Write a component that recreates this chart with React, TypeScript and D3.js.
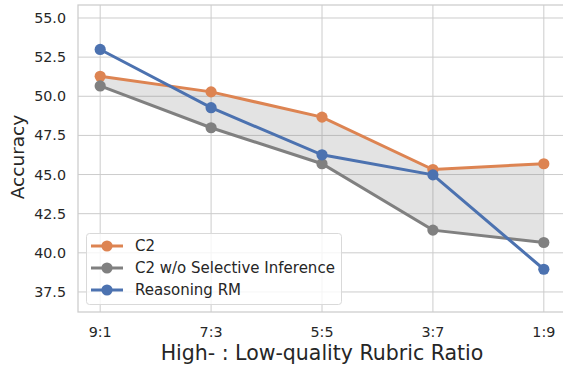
import React from 'react';
import * as d3 from 'd3';

const categories = ['9:1', '7:3', '5:5', '3:7', '1:9'];
const c2Values = [51.28, 50.28, 48.67, 45.32, 45.69];
const c2NoSelective = [50.66, 47.99, 45.69, 41.45, 40.66];
const reasoningRM = [52.99, 49.27, 46.26, 44.98, 38.95];
const yTicks = [37.5, 40.0, 42.5, 45.0, 47.5, 50.0, 52.5, 55.0];

const series = [
  { name: 'C2', values: c2Values, color: '#dd8452' },
  { name: 'C2 w/o Selective Inference', values: c2NoSelective, color: '#808080' },
  { name: 'Reasoning RM', values: reasoningRM, color: '#4c72b0' },
];

const W = 563;
const H = 369;
const plot = { left: 78, top: 5, right: 566, bottom: 312 };
const textColor = '#262626';
const font = 'DejaVu Sans, sans-serif';

export default function App() {
  const x = d3.scaleLinear().domain([-0.2, 4.2]).range([plot.left, plot.right]);
  const y = d3.scaleLinear().domain([36.22, 55.83]).range([plot.bottom, plot.top]);

  const band = d3.area<number>()
    .x((_, i) => x(i))
    .y0((_, i) => y(c2NoSelective[i]))
    .y1((d) => y(d));

  const line = d3.line<number>()
    .x((_, i) => x(i))
    .y((d) => y(d));

  return (
    <svg width={W} height={H} style={{ position: 'absolute', left: 0, top: 0 }} fontFamily={font}>
      <rect x={0} y={0} width={W} height={H} fill="#fff" />
      {/* grid */}
      {yTicks.map((t) => (
        <line key={'gy' + t} x1={plot.left} x2={plot.right} y1={y(t)} y2={y(t)} stroke="#cccccc" strokeWidth={1} />
      ))}
      {categories.map((c, i) => (
        <line key={'gx' + c} x1={x(i)} x2={x(i)} y1={plot.top} y2={plot.bottom} stroke="#cccccc" strokeWidth={1} />
      ))}
      {/* spines */}
      <rect x={plot.left} y={plot.top} width={plot.right - plot.left} height={plot.bottom - plot.top}
        fill="none" stroke="#cccccc" strokeWidth={1.25} />

      {/* shaded gap between C2 and ablation */}
      <path d={band(c2Values) || ''} fill="#808080" fillOpacity={0.22} stroke="none" />

      {series.map((s) => (
        <g key={s.name}>
          <path d={line(s.values) || ''} fill="none" stroke={s.color} strokeWidth={3} />
          {s.values.map((v, i) => (
            <circle key={i} cx={x(i)} cy={y(v)} r={5.6} fill={s.color} />
          ))}
        </g>
      ))}

      {/* y tick labels */}
      {yTicks.map((t) => (
        <text key={'ty' + t} x={66} y={y(t)} dy="0.35em" textAnchor="end" fontSize={14.3} fill={textColor}>
          {t.toFixed(1)}
        </text>
      ))}
      {/* x tick labels */}
      {categories.map((c, i) => (
        <text key={'tx' + c} x={x(i)} y={337} textAnchor="middle" fontSize={14.3} fill={textColor}>
          {c}
        </text>
      ))}

      <text x={0} y={0} transform={`translate(24,157) rotate(-90)`}
        textAnchor="middle" fontSize={18.5} fill={textColor}>Accuracy</text>
      <text x={322} y={360} textAnchor="middle" fontSize={20.5} fill={textColor}>
        High- : Low-quality Rubric Ratio
      </text>

      {/* legend */}
      <g>
        <rect x={86.5} y={233.5} width={255} height={71} rx={3} fill="#fff" fillOpacity={0.8} stroke="#d9d9d9" />
        {series.map((s, i) => {
          const ly = 246 + i * 22;
          return (
            <g key={'lg' + s.name}>
              <line x1={91} x2={123} y1={ly} y2={ly} stroke={s.color} strokeWidth={3} />
              <circle cx={107} cy={ly} r={5.6} fill={s.color} />
              <text x={135} y={ly} dy="0.35em" fontSize={15} fill={textColor}>{s.name}</text>
            </g>
          );
        })}
      </g>
    </svg>
  );
}
